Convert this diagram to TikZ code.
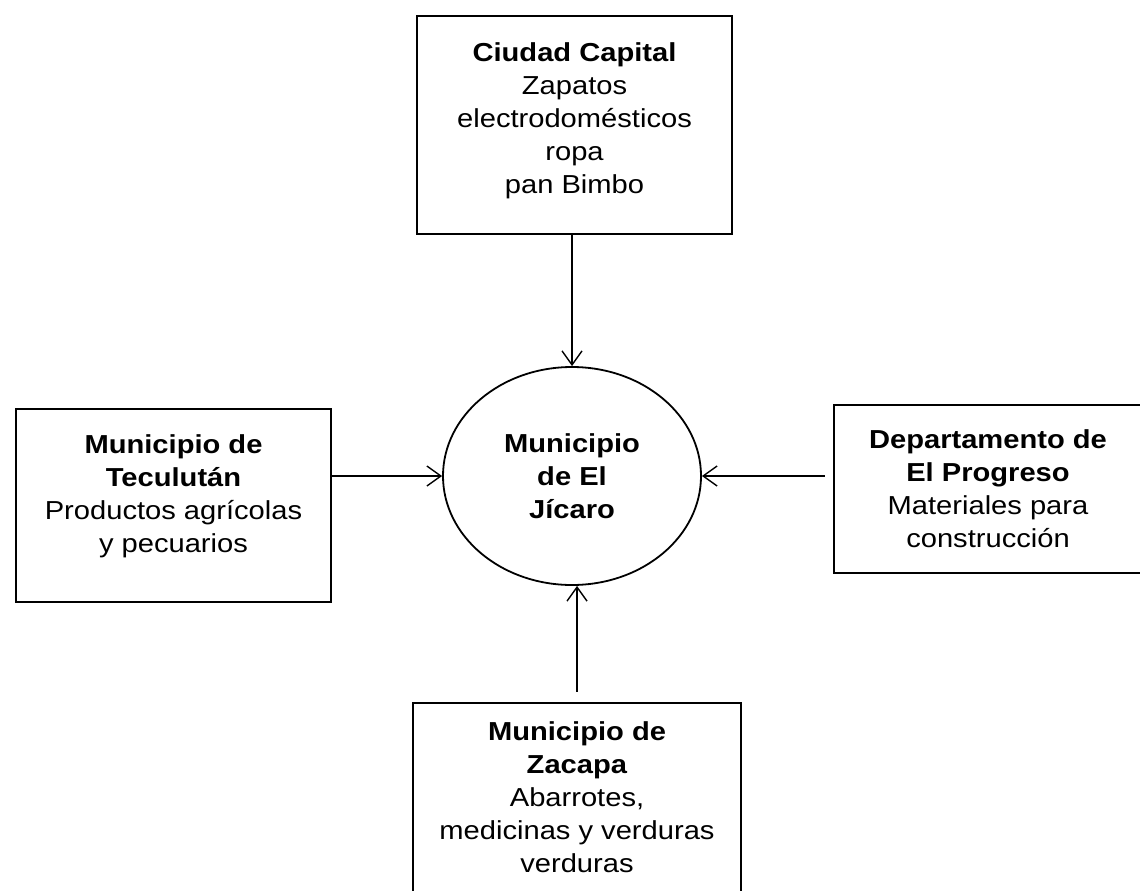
\documentclass[tikz,border=0pt]{standalone}
\usepackage{fontspec}
\setmainfont{Liberation Sans}[FakeStretch=1.12]
\usetikzlibrary{arrows.meta,shapes.geometric}
\begin{document}
\begin{tikzpicture}[x=1pt,y=-1pt,
  every node/.style={font=\fontsize{26}{33}\selectfont},
  srcbox/.style={draw, line width=2.4pt, rectangle, align=center, inner sep=0pt},
  hub/.style={draw, line width=1.8pt, ellipse, align=center, inner sep=0pt, minimum width=258pt, minimum height=218pt},
  flow/.style={line width=1.4pt, -{Straight Barb[length=14pt,width=20pt]}}]
\useasboundingbox (0,0) rectangle (1140,891);
\node[srcbox, minimum width=315pt, minimum height=218pt] (cap) at (574.5,125)
  {\textbf{Ciudad Capital}\\Zapatos\\electrodomésticos\\ropa\\pan Bimbo\rule[-14pt]{0pt}{14pt}};
\node[srcbox, minimum width=315pt, minimum height=193pt] (teculutan) at (173.5,505.5)
  {\textbf{Municipio de}\\\textbf{Teculután}\\Productos agrícolas\\y pecuarios\rule[-24pt]{0pt}{24pt}};
\node[srcbox, minimum width=308pt, minimum height=168pt] (progreso) at (988,489)
  {\textbf{Departamento de}\\\textbf{El Progreso}\\Materiales para\\construcción};
\node[srcbox, minimum width=328pt, minimum height=194pt] (zacapa) at (577,800)
  {\textbf{Municipio de}\\\textbf{Zacapa}\\Abarrotes,\\medicinas y verduras\\verduras\rule[-6pt]{0pt}{6pt}};
\node[hub] (hub) at (572,476) {\textbf{Municipio}\\\textbf{de El}\\\textbf{Jícaro}};
\draw[flow] (cap.south -| hub.north) -- (hub.north);
\draw[flow] (teculutan.east |- hub.west) -- (hub.west);
\draw[flow, shorten <=8pt] (progreso.west |- hub.east) -- (hub.east);
\draw[flow, shorten <=10pt] (zacapa.north) -- (hub.south -| zacapa.north);
\end{tikzpicture}
\end{document}
